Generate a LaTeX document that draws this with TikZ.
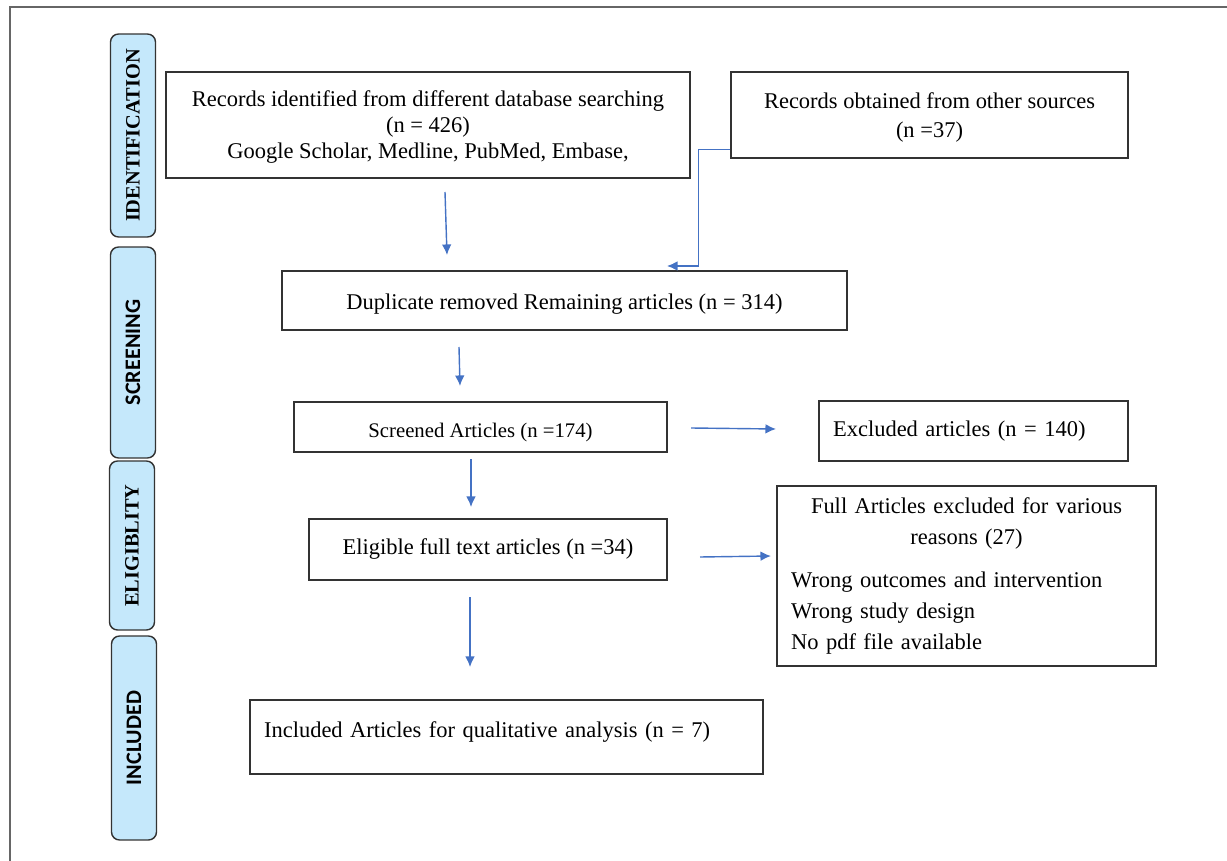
\documentclass[tikz,border=0pt]{standalone}
\usepackage{fontspec}
\setmainfont{Liberation Serif}
\newfontfamily\lanefont{Carlito}
\usepackage{tikz}
\usetikzlibrary{positioning}
\usetikzlibrary{arrows.meta}
\definecolor{lanebg}{HTML}{C5E8FB}
\definecolor{flowblue}{HTML}{4472C4}
\definecolor{boxline}{HTML}{333333}
\tikzset{box/.style={shape=rectangle,draw=boxline,line width=0.8pt,inner sep=0pt,align=center,font=\fontsize{12.8}{14.8}\selectfont}}
\tikzset{lane/.style={shape=rectangle,rounded corners=0.16cm,draw=boxline,line width=0.8pt,fill=lanebg,rotate=90,minimum height=0.9cm,inner sep=0pt}}
\tikzset{serifhead/.style={font=\fontsize{11.6}{12}\selectfont\bfseries}}
\tikzset{sanshead/.style={font=\fontsize{12.6}{13}\selectfont\lanefont\bfseries}}
\tikzset{flow/.style={->,>={Latex[length=6pt,width=5.5pt]},draw=flowblue,line width=0.8pt}}

\begin{document}
\begin{tikzpicture}[x=0.02cm,y=-0.02cm]
\useasboundingbox (0,0) rectangle (1227,861);
\draw[gray!80!black,line width=0.9pt] (10,861)--(10,7)--(1227,7);

% stage lanes
\node(Ident) at (133,135.5) [lane,serifhead,minimum width=4.06cm] {IDENTIFICATION};
\node(Screen) at (133,352.5) [lane,sanshead,minimum width=4.22cm] {SCREENING};
\node(Elig) at (132,545.5) [lane,serifhead,minimum width=3.38cm] {ELIGIBLITY};
\node(Incl) at (134,738) [lane,sanshead,minimum width=4.08cm] {INCLUDED};

% boxes
\node(Found) at (428,125) [box,minimum width=10.48cm,minimum height=2.12cm,text depth=0pt] {Records identified from different database searching\\(n = 426)\\Google Scholar, Medline, PubMed, Embase,};
\node(Other) at (929.5,115) [box,minimum width=7.94cm,minimum height=1.72cm,font=\fontsize{12.8}{16.5}\selectfont,text depth=0pt] {Records obtained from other sources\\(n =37)};
\node(Dedup) at (564.5,300.5) [box,minimum width=11.3cm,minimum height=1.18cm,text height=0.45cm] {Duplicate removed Remaining articles (n = 314)};
\node(Screened) at (480.5,427) [box,minimum width=7.46cm,minimum height=1cm,font=\fontsize{11.8}{14}\selectfont,text height=0.5cm] {Screened Articles (n =174)};
\node(Excluded) at (973.5,431) [box,minimum width=6.18cm,minimum height=1.2cm,text width=5.62cm,inner xsep=0.28cm,align=left] {Excluded articles (n = 140)};
\node(Eligible) at (488,549.5) [box,minimum width=7.16cm,minimum height=1.22cm] {Eligible full text articles (n =34)};
\node(Reasons) at (966.5,576) [box,minimum width=7.58cm,minimum height=3.6cm,text width=7.02cm,inner xsep=0.28cm,align=left,font=\fontsize{12.8}{17.6}\selectfont] {\centering Full Articles excluded for various\\reasons (27)\par\vspace{7pt}\raggedright Wrong outcomes and intervention\\Wrong study design\\No pdf file available};
\node(Included) at (506.5,737) [box,minimum width=10.26cm,minimum height=1.48cm,text width=9.7cm,inner xsep=0.28cm,align=left,text depth=0.28cm] {Included Articles for qualitative analysis (n = 7)};

% arrow ends
\coordinate(a1) at (445,192);
\coordinate(b1) at (447,255);
\coordinate(a2) at (459,347);
\coordinate(b2) at (460,386);
\coordinate(a3) at (691,428);
\coordinate(b3) at (776,429);
\coordinate(a4) at (471,459);
\coordinate(b4) at (471,507);
\coordinate(a5) at (700,557);
\coordinate(b5) at (771,556);
\coordinate(a6) at (470,597);
\coordinate(b6) at (470,667);
\coordinate(b7) at (667,266);

\draw[flow] (a1)--(b1);
\draw[flow] (a2)--(b2);
\draw[flow] (a3)--(b3);
\draw[flow] (a4)--(b4);
\draw[flow] (a5)--(b5);
\draw[flow] (a6)--(b6);
\draw[flow] ([yshift=0.18cm]Other.south west) -- ++(-32,0) |- (b7);
\end{tikzpicture}
\end{document}
